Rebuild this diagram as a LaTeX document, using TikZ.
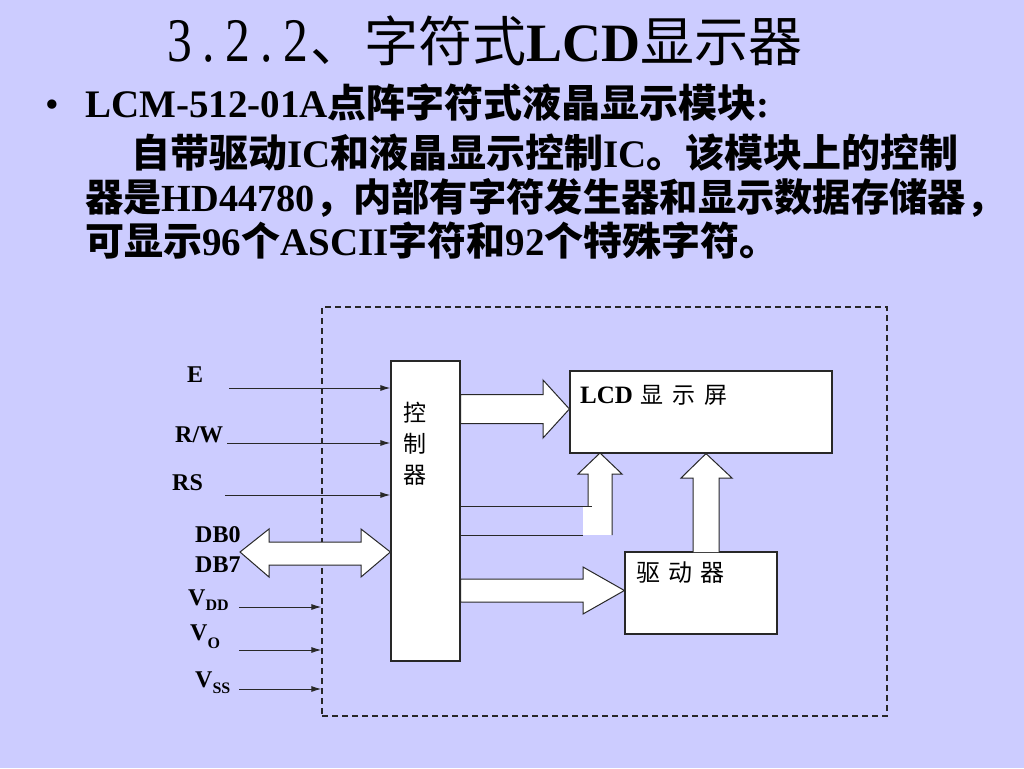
\documentclass[tikz,border=0pt]{standalone}
\usepackage{fontspec}
\setmainfont{Liberation Serif}
\newfontfamily\cjk{Noto Sans CJK SC}
\usetikzlibrary{arrows.meta}
\definecolor{bg}{RGB}{204,204,255}
\definecolor{ln}{RGB}{40,40,40}
\newcommand\zh[1]{{\cjk #1}}
\newcommand\fs[1]{\fontsize{#1}{#1}\selectfont}
\newcommand\tc[1]{\makebox[29pt][c]{\scalebox{0.8}[1]{#1}}}
\begin{document}
\begin{tikzpicture}[x=1pt,y=-1pt,line join=miter,
  box/.style={draw=ln,fill=white,line width=1.2pt,inner sep=0pt},
  sig/.style={draw=ln,line width=1pt,-{Latex[length=10pt,width=6pt]}},
  fat/.style={draw=ln,fill=white,line width=1pt},
  lbl/.style={inner sep=0pt,anchor=base west,font=\fs{24}\bfseries},
  body/.style={inner sep=0pt,anchor=base west,font=\fs{39}\bfseries},
  zhlbl/.style={inner sep=0pt,font=\cjk\fs{23}}]
\fill[bg] (0,0) rectangle (1024,768);
\useasboundingbox (0,0) rectangle (1024,768);

% title and text
\node[inner sep=0pt,anchor=base west] (title) at (165,62)
  {{\fs{62}\tc{3}\tc{.}\tc{2}\tc{.}\tc{2}}{\fs{54}\zh{、字符式}\textbf{LCD}\zh{显示器}}};
\node[inner sep=0pt,anchor=base west,font=\fs{39}] (bullet) at (45,117) {\textbullet};
\node[body] (l1) at (85,117) {LCM-512-01A\zh{点阵字符式液晶显示模块}:};
\node[body] (l2) at (131,167) {\zh{自带驱动}IC\zh{和液晶显示控制}IC\zh{。该模块上的控制}};
\node[body,font=\fs{38.3}\bfseries] (l3) at (85,211) {\zh{器是}HD44780\zh{，内部有字符发生器和显示数据存储器，}};
\node[body] (l4) at (85,255) {\zh{可显示}96\zh{个}ASCII\zh{字符和}92\zh{个特殊字符。}};

% module frame
\node[draw=ln,dashed,dash pattern=on 6pt off 4pt,line width=1.3pt,minimum width=565pt,minimum height=409pt,inner sep=0pt] (module) at (604.5,511.5) {};

% blocks
\node[box,minimum width=69pt,minimum height=300pt] (ctrl) at (425.5,511) {};
\node[box,minimum width=262pt,minimum height=82pt] (lcd) at (701,412) {};
\node[box,minimum width=152pt,minimum height=82pt] (drv) at (701,593) {};

\node[zhlbl,align=center,font=\cjk\fontsize{23}{31}\selectfont] (ctrltxt) at (414.5,444) {控\\制\\器};
\node[inner sep=0pt,anchor=base west] (lcdtxt) at (580,403)
  {{\fs{25}\bfseries LCD}\hspace{8pt}\zh{\fs{23}显\hspace{9pt}示\hspace{9pt}屏}};
\node[inner sep=0pt,anchor=west] (drvtxt) at (636,573)
  {\zh{\fs{24}驱\hspace{8pt}动\hspace{8pt}器}};

% fat arrows
\coordinate (a1) at (0,409);
\draw[fat] (ctrl.east |- 0,394.5) -- (543,394.5) -- (543,380) -- (lcd.west |- a1) -- (543,438) -- (543,423.5) -- (ctrl.east |- 0,423.5) -- cycle;
\coordinate (a2) at (0,590.5);
\draw[fat] (ctrl.east |- 0,579) -- (583,579) -- (583,567) -- (drv.west |- a2) -- (583,614) -- (583,602) -- (ctrl.east |- 0,602) -- cycle;
\coordinate (a3) at (706,0);
\draw[fat] (693,552) -- (693,478) -- (681,478) -- (lcd.south -| a3) -- (732,478) -- (719,478) -- (719,552);
% bent arrow from controller
\fill[white] (583,506) rectangle (612,535);
\draw[fat] (588,506) -- (588,474) -- (578,474) -- (600,453) -- (622,474) -- (612,474) -- (612,535);
\draw[draw=ln,line width=1pt] (ctrl.east |- 0,506) -- (592,506);
\draw[draw=ln,line width=1pt] (ctrl.east |- 0,535) -- (583,535);
% data bus double arrow
\coordinate (dbL) at (240,552);
\draw[fat] (dbL) -- (269,529) -- (269,542) -- (361,542) -- (361,529) -- (ctrl.west |- dbL) -- (361,577) -- (361,565) -- (269,565) -- (269,577) -- cycle;

% signal arrows
\coordinate (eS) at (229,388);
\coordinate (rwS) at (227,443);
\coordinate (rsS) at (225,495);
\draw[sig] (eS) -- (eS -| ctrl.west);
\draw[sig] (rwS) -- (rwS -| ctrl.west);
\draw[sig] (rsS) -- (rsS -| ctrl.west);
\coordinate (vddS) at (239,607);
\coordinate (voS) at (239,650);
\coordinate (vssS) at (239,689);
\draw[sig] (vddS) -- (vddS -| module.west);
\draw[sig] (voS) -- (voS -| module.west);
\draw[sig] (vssS) -- (vssS -| module.west);

% labels
\node[lbl] (le) at (187,382) {E};
\node[lbl] (lrw) at (175,442) {R/W};
\node[lbl] (lrs) at (172,490) {RS};
\node[lbl] (ldb0) at (195,542) {DB0};
\node[lbl] (ldb7) at (195,572) {DB7};
\node[lbl] (lvdd) at (188,605) {V\raisebox{-5pt}{\fs{16}DD}};
\node[lbl] (lvo) at (190,640) {V\raisebox{-8pt}{\fs{16}O}};
\node[lbl] (lvss) at (195,687) {V\raisebox{-6pt}{\fs{16}SS}};
\end{tikzpicture}
\end{document}
